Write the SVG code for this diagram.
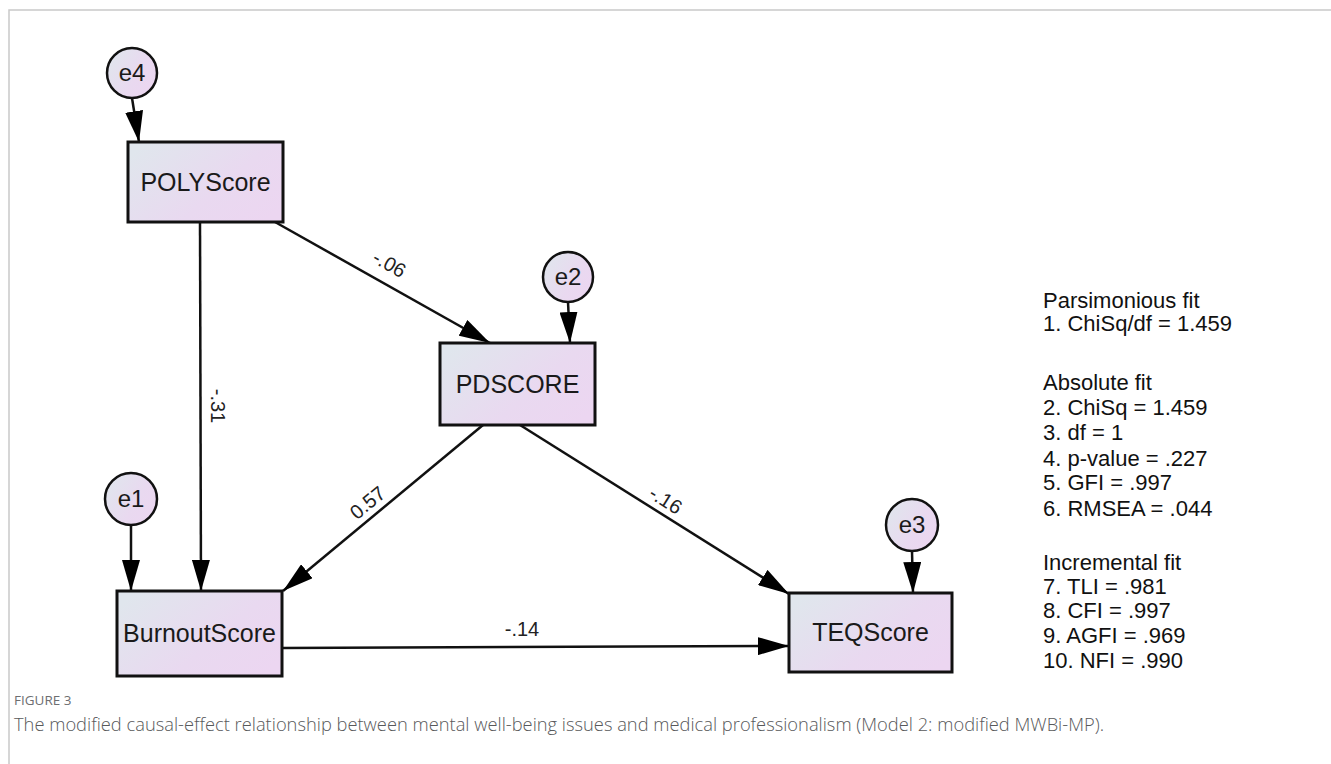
<svg xmlns="http://www.w3.org/2000/svg" width="1331" height="764" viewBox="0 0 1331 764">
<defs>
<linearGradient id="g" x1="0" y1="0.2" x2="1" y2="0.8">
<stop offset="0" stop-color="#e0e6ed"/>
<stop offset="0.6" stop-color="#e9d9f0"/>
<stop offset="1" stop-color="#ecd6f1"/>
</linearGradient>
<marker id="ah" markerUnits="userSpaceOnUse" markerWidth="31" markerHeight="18" refX="31" refY="9" orient="auto">
<path d="M0,0 L31,9 L0,18 Z" fill="#000"/>
</marker>
</defs>
<style>
.box{fill:url(#g);stroke:#111;stroke-width:3}
.err{fill:url(#g);stroke:#111;stroke-width:2.5}
.lbl{font-family:"Liberation Sans",Arial,sans-serif;font-size:25px;fill:#1a1a1a;text-anchor:middle}
.elbl{font-family:"Liberation Sans",Arial,sans-serif;font-size:24px;fill:#1a1a1a;text-anchor:middle}
.coef{font-family:"Liberation Sans",Arial,sans-serif;font-size:20px;fill:#222;text-anchor:middle}
.fit{font-family:"Liberation Sans",Arial,sans-serif;font-size:22px;fill:#111}
.edge{stroke:#111;stroke-width:2.5;fill:none;marker-end:url(#ah)}
.cap1{font-family:"Open Sans","Noto Sans",sans-serif;font-size:13.5px;fill:#6d6e71}
.cap2{font-family:"Open Sans","Noto Sans",sans-serif;font-size:18px;font-weight:300;fill:#58595b}
</style>
<rect width="1331" height="764" fill="#fff"/>
<path d="M9,764 V10 H1331" fill="none" stroke="#c9c9c9" stroke-width="1.5"/>

<g id="connectors">
<line class="edge" x1="132" y1="98" x2="139" y2="142"/>
<line class="edge" x1="568" y1="302" x2="570" y2="343"/>
<line class="edge" x1="131" y1="525" x2="131" y2="591"/>
<line class="edge" x1="912" y1="551" x2="913" y2="593"/>
<line class="edge" x1="200" y1="222" x2="201" y2="591"/>
<line class="edge" x1="275" y1="222" x2="490" y2="343"/>
<line class="edge" x1="483" y1="425" x2="283" y2="591"/>
<line class="edge" x1="520" y1="425" x2="789" y2="594"/>
<line class="edge" x1="282" y1="648" x2="789" y2="646"/>
<text class="coef" transform="translate(386,270) rotate(29.4)">-.06</text>
<text class="coef" transform="translate(211,406) rotate(90)">-.31</text>
<text class="coef" transform="translate(372,508) rotate(-39.7)">0.57</text>
<text class="coef" transform="translate(662,506) rotate(32.4)">-.16</text>
<text class="coef" x="522" y="636">-.14</text>
</g>

<g id="e4"><circle class="err" cx="132" cy="73" r="25"/><text class="elbl" x="132" y="81">e4</text></g>
<g id="e2"><circle class="err" cx="568" cy="277" r="25"/><text class="elbl" x="568" y="285">e2</text></g>
<g id="e1"><circle class="err" cx="131" cy="499" r="26"/><text class="elbl" x="131" y="507">e1</text></g>
<g id="e3"><circle class="err" cx="912" cy="525" r="26"/><text class="elbl" x="912" y="533">e3</text></g>

<g id="POLYScore"><rect class="box" x="128" y="142" width="155" height="80"/><text class="lbl" x="205.5" y="191">POLYScore</text></g>
<g id="PDSCORE"><rect class="box" x="440" y="343" width="155" height="82"/><text class="lbl" x="517.5" y="393">PDSCORE</text></g>
<g id="BurnoutScore"><rect class="box" x="117" y="591" width="165" height="85"/><text class="lbl" x="199.5" y="642">BurnoutScore</text></g>
<g id="TEQScore"><rect class="box" x="789" y="593" width="163" height="79"/><text class="lbl" x="870.5" y="641">TEQScore</text></g>

<g id="fit-indices">
<text class="fit" x="1043" y="308">Parsimonious fit</text>
<text class="fit" x="1043" y="331">1. ChiSq/df = 1.459</text>
<text class="fit" x="1043" y="390">Absolute fit</text>
<text class="fit" x="1043" y="415">2. ChiSq = 1.459</text>
<text class="fit" x="1043" y="440">3. df = 1</text>
<text class="fit" x="1043" y="466">4. p-value = .227</text>
<text class="fit" x="1043" y="490">5. GFI = .997</text>
<text class="fit" x="1043" y="516">6. RMSEA = .044</text>
<text class="fit" x="1043" y="570">Incremental fit</text>
<text class="fit" x="1043" y="594">7. TLI = .981</text>
<text class="fit" x="1043" y="618">8. CFI = .997</text>
<text class="fit" x="1043" y="643">9. AGFI = .969</text>
<text class="fit" x="1043" y="668">10. NFI = .990</text>
</g>

<text class="cap1" x="14" y="705">FIGURE 3</text>
<text class="cap2" x="14" y="731" textLength="1090" lengthAdjust="spacingAndGlyphs">The modified causal-effect relationship between mental well-being issues and medical professionalism (Model 2: modified MWBi-MP).</text>
</svg>
